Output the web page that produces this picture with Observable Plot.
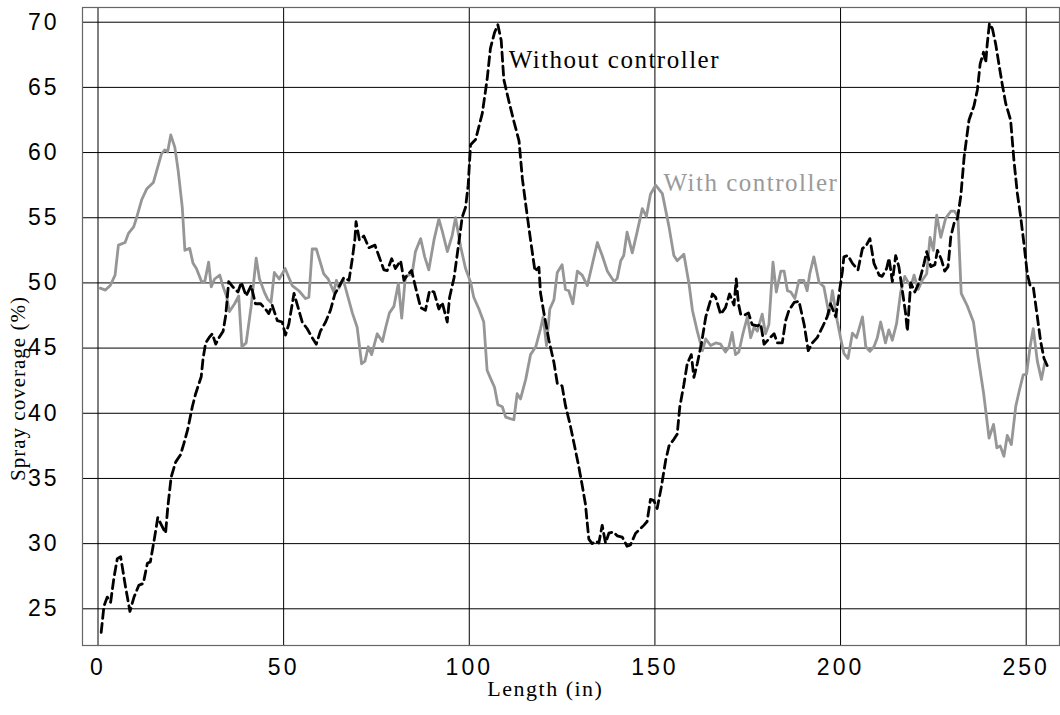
<!DOCTYPE html>
<html>
<head>
<meta charset="utf-8">
<script src="https://cdn.jsdelivr.net/npm/d3@7"></script>
<script src="https://cdn.jsdelivr.net/npm/@observablehq/plot@0.6"></script>
<style>
  html, body { margin: 0; padding: 0; background: #fff; }
  #chart svg { display: block; }
  #chart g[aria-label="x-axis tick label"] text,
  #chart g[aria-label="y-axis tick label"] text { letter-spacing: 3px; }
  .serif text { letter-spacing: 1.5px; }
  .serif2 text { letter-spacing: 1px; }
</style>
</head>
<body>
<div id="chart"></div>
<script>
// ---- data ----
const xTicks = [0, 50, 100, 150, 200, 250];
const yTicks = [25, 30, 35, 40, 45, 50, 55, 60, 65, 70];

const withX = [0.6,2.0,3.3,4.6,5.5,7.3,8.2,9.6,10.4,11.8,13.1,14.9,15.8,17.1,18.0,18.75,19.6,20.7,21.6,22.7,23.4,24.7,25.6,26.5,27.9,28.75,29.8,30.5,31.4,32.8,33.7,34.6,35.4,36.8,37.9,38.75,39.9,41.25,42.6,43.5,44.8,45.7,46.6,47.5,48.8,50.4,52.3,54.1,55.9,56.8,57.7,58.8,60.8,62.0,63.5,64.2,64.9,66.0,68.5,69.8,71.0,71.9,72.8,73.7,75.2,76.6,77.5,78.5,79.7,80.9,81.8,82.8,84.6,85.5,86.9,88.0,89.1,90.5,91.8,92.7,94.1,95.4,96.3,97.7,99.0,100.35,101.2,102.6,103.9,104.8,105.7,106.8,107.7,108.9,109.8,112.0,112.9,113.8,115.2,116.5,117.9,119.2,119.9,120.8,121.7,122.8,123.7,125.0,125.9,126.8,127.9,129.1,130.4,131.8,134.5,135.8,137.2,138.1,139.0,139.85,140.8,141.6,142.5,143.9,145.2,146.6,147.7,148.8,150.2,152.0,153.8,155.1,156.0,157.8,159.2,160.1,161.4,162.8,163.7,165.0,166.4,167.7,169.0,169.9,170.8,171.7,172.6,173.7,174.9,175.8,176.7,177.6,178.9,179.8,180.7,181.8,182.7,183.9,184.8,185.7,186.6,187.7,188.8,190.1,191.0,191.7,192.8,194.2,195.5,196.9,197.8,199.1,200.0,200.9,202.0,203.2,204.3,205.9,206.8,207.9,209.0,209.9,210.8,212.1,213.0,213.95,215.1,216.2,217.3,218.9,219.8,220.9,222.0,223.2,224.1,225.0,225.9,227.0,228.3,229.7,230.7,231.6,232.5,234.2,235.8,237.0,238.5,240.0,241.2,242.1,243.0,244.0,244.9,246.0,247.2,248.2,249.2,250.1,251.0,251.9,253.0,254.1,255.0];
const withY = [49.6,49.45,49.8,50.6,52.9,53.1,53.8,54.3,55.0,56.4,57.2,57.7,58.6,59.9,60.2,60.05,61.35,60.4,58.6,55.8,52.5,52.65,51.5,51.1,50.1,50.1,51.6,49.7,50.3,50.6,49.7,49.0,47.8,48.4,49.0,45.1,45.4,48.2,51.9,50.3,49.3,48.75,48.5,50.8,50.3,51.1,49.8,49.4,48.8,48.9,52.6,52.6,50.7,50.3,49.3,50.2,49.6,50.3,47.7,46.6,43.8,44.0,45.1,44.5,46.1,45.5,46.6,47.7,48.2,49.95,47.3,50.5,50.7,52.4,53.4,52.0,51.0,53.3,54.9,54.0,52.4,53.65,55.0,52.75,51.1,50.06,48.9,48.0,47.0,43.3,42.7,42.0,40.65,40.5,39.7,39.5,41.5,41.1,42.6,44.5,45.1,46.5,47.4,45.2,48.0,48.7,50.8,51.4,49.5,49.4,48.4,50.9,50.6,49.8,53.1,52.1,50.9,50.5,50.1,50.35,51.7,52.1,53.9,52.3,53.9,55.7,55.1,56.8,57.5,56.85,54.3,52.1,51.7,52.2,49.9,47.9,46.3,44.8,45.7,45.2,45.4,45.3,44.7,45.05,46.2,44.5,44.7,46.1,47.4,45.8,46.6,46.3,47.6,46.1,46.8,51.6,49.3,50.9,50.9,49.4,49.3,48.8,50.2,50.2,49.4,50.7,52.0,50.05,49.7,47.6,49.4,47.1,45.8,44.6,44.2,46.15,45.8,47.4,45.1,44.75,45.1,45.8,47.0,45.4,46.4,45.6,46.9,49.3,50.5,49.7,50.6,49.5,50.2,50.7,53.5,52.5,55.2,53.5,54.95,55.5,55.5,55.1,49.2,48.2,47.0,44.4,41.6,38.1,39.15,37.35,37.5,36.7,38.3,37.6,40.55,41.8,42.95,43.0,45.0,46.5,44.0,42.6,43.85];

const withoutX = [0.86,1.6,2.5,3.4,4.3,5.2,6.1,7.4,8.6,9.7,11.0,12.2,13.3,14.1,15.2,16.1,17.3,18.2,18.8,19.7,20.9,22.2,23.1,24.2,25.4,26.3,27.8,28.3,29.0,29.9,30.8,31.7,32.6,33.7,34.4,35.2,36.3,37.7,38.6,39.9,41.25,42.4,43.8,45.1,46.0,46.9,48.3,49.6,50.5,51.4,52.8,53.6,55.0,56.3,57.7,58.8,59.9,61.3,62.6,63.8,64.9,66.2,67.6,68.5,69.2,69.5,70.4,71.6,72.95,74.6,75.6,77.0,77.9,79.1,80.1,81.5,82.4,83.3,84.45,85.5,86.9,88.2,89.3,90.5,91.8,92.7,94.06,94.7,95.9,97.0,98.1,99.0,99.7,100.35,101.7,103.5,104.8,105.7,106.8,107.7,108.6,109.3,110.7,112.0,113.4,114.3,115.4,116.5,117.7,118.75,119.2,120.1,121.45,122.8,123.7,125.0,125.9,127.1,128.2,129.5,130.4,131.3,131.8,132.2,133.1,134.0,134.9,135.8,136.7,137.6,138.8,139.85,141.2,142.5,143.4,144.8,145.95,147.0,147.9,148.8,149.7,150.6,151.7,152.9,153.8,155.1,156.0,156.7,157.8,158.7,159.8,160.5,161.4,162.5,163.7,164.4,165.5,166.35,167.7,169.0,170.1,171.3,171.9,172.5,173.1,174.0,175.2,176.2,177.6,178.5,179.4,180.7,182.1,183.0,184.3,185.2,186.1,187.5,188.8,190.2,191.3,192.4,193.7,195.1,196.4,197.3,198.7,199.6,200.5,200.9,202.0,203.2,204.7,205.9,206.8,207.9,209.0,210.4,211.2,212.4,213.05,213.95,214.85,215.7,216.6,217.5,218.0,218.9,220.0,221.1,222.5,223.2,224.3,225.4,226.1,227.15,228.05,228.95,229.7,230.6,231.5,232.4,233.3,234.6,235.95,236.85,237.6,238.5,239.1,239.5,240.1,240.9,241.8,242.7,243.6,244.5,245.8,246.7,247.6,248.5,249.4,250.3,251.0,251.9,253.0,253.9,254.8,255.9];
const withoutY = [23.2,25.2,25.9,25.5,27.4,28.85,29.0,26.7,24.8,25.9,26.8,26.95,28.5,28.6,30.4,32.0,31.3,30.8,32.8,35.1,36.25,36.8,37.65,38.8,40.5,41.5,42.8,44.2,45.4,45.8,46.1,45.3,45.8,46.3,47.5,50.1,49.7,49.3,50.05,49.0,49.8,48.4,48.4,48.0,47.65,48.3,47.1,47.0,46.0,46.85,49.2,48.4,47.0,46.5,45.8,45.3,46.3,47.0,47.9,49.15,49.7,50.4,50.2,51.85,53.4,54.7,53.3,53.6,52.7,52.9,52.1,51.0,50.95,51.85,51.1,51.7,50.2,50.6,50.95,49.7,48.1,47.9,49.4,49.3,48.0,48.5,47.0,48.9,50.4,52.7,55.05,55.8,57.5,60.6,61.0,63.0,65.6,68.0,69.2,69.8,68.6,65.6,63.9,62.4,60.9,58.0,55.6,53.3,50.9,51.2,49.2,47.7,45.6,43.9,42.3,42.1,40.6,39.2,37.7,35.9,34.5,33.0,31.5,30.35,30.0,30.2,30.05,31.4,30.05,30.8,30.9,30.6,30.5,29.8,29.9,30.8,31.1,31.4,31.7,33.4,33.3,32.7,34.3,36.4,37.5,38.0,38.4,40.5,42.2,43.8,44.5,42.75,43.8,45.3,47.4,48.1,49.15,48.9,47.6,48.1,49.15,48.3,50.3,48.4,47.6,47.5,47.7,46.8,46.7,46.85,45.3,45.7,46.1,45.4,45.4,47.1,47.9,48.5,48.6,46.8,44.8,45.4,45.8,46.6,47.4,48.4,47.4,49.15,50.9,52.0,52.1,51.5,51.0,52.65,52.8,53.4,51.5,50.6,50.5,51.1,51.9,50.1,52.1,51.25,49.5,47.7,46.3,50.0,49.3,50.0,51.5,52.4,51.25,51.4,52.5,51.8,50.9,51.25,53.55,54.6,54.95,56.7,59.7,62.5,63.6,64.8,66.8,67.7,66.9,68.3,69.9,69.5,68.3,66.7,65.15,63.75,62.5,59.4,56.9,55.1,53.0,50.7,49.85,49.7,47.4,45.5,44.2,43.5];

const seriesLabels = ["Without controller", "With controller"];
const labelX = [110.6, 152.3];
const labelY = [67.1, 57.7];
const xTitle = "Length (in)";
const yTitle = "Spray coverage (%)";

// ---- build tables ----
const withData = withX.map((x, i) => ({x, y: withY[i]}));
const withoutData = withoutX.map((x, i) => ({x, y: withoutY[i]}));
const labels = seriesLabels.map((t, i) => ({t, x: labelX[i], y: labelY[i]}));

const serif = "'Liberation Serif', 'DejaVu Serif', serif";
const sans = "'Liberation Sans', Arial, sans-serif";

const chart = Plot.plot({
  width: 1060,
  height: 715,
  marginTop: 7,
  marginBottom: 70,
  marginLeft: 82,
  marginRight: 1,
  style: {background: "#fff", fontFamily: sans},
  x: {domain: [-4.175, 258.97], ticks: xTicks},
  y: {domain: [22.185, 71.128], ticks: yTicks},
  marks: [
    Plot.ruleY(yTicks, {stroke: "#000", strokeWidth: 1}),
    Plot.ruleX(xTicks, {stroke: "#000", strokeWidth: 1}),
    Plot.frame({stroke: "#666", strokeWidth: 1.2}),
    Plot.axisX({ticks: xTicks, tickSize: 0, tickPadding: 13, fontSize: 23, fontFamily: sans, label: null, fill: "#000"}),
    Plot.axisY({ticks: yTicks, tickSize: 0, tickPadding: 23, fontSize: 23, fontFamily: sans, label: null, fill: "#000"}),
    Plot.line(withData, {x: "x", y: "y", stroke: "#969696", strokeWidth: 2.8, curve: "linear"}),
    Plot.line(withoutData, {x: "x", y: "y", stroke: "#000", strokeWidth: 2.8, strokeDasharray: "9,5"}),
    Plot.text(labels, {x: "x", y: "y", text: "t", textAnchor: "start", fontSize: 25, fontFamily: serif,
      fill: (d) => d.t === "With controller" ? "#9a9a9a" : "#000", className: "serif"}),
    Plot.text([xTitle], {x: 120.5, frameAnchor: "bottom", textAnchor: "middle", dy: 50, fontSize: 22, fontFamily: serif, fill: "#000", className: "serif"}),
    Plot.text([yTitle], {y: 41.9, frameAnchor: "left", textAnchor: "middle", dx: -64, rotate: -90, fontSize: 21, fontFamily: serif, fill: "#000", className: "serif2"})
  ]
});
document.getElementById("chart").appendChild(chart);
</script>
</body>
</html>
